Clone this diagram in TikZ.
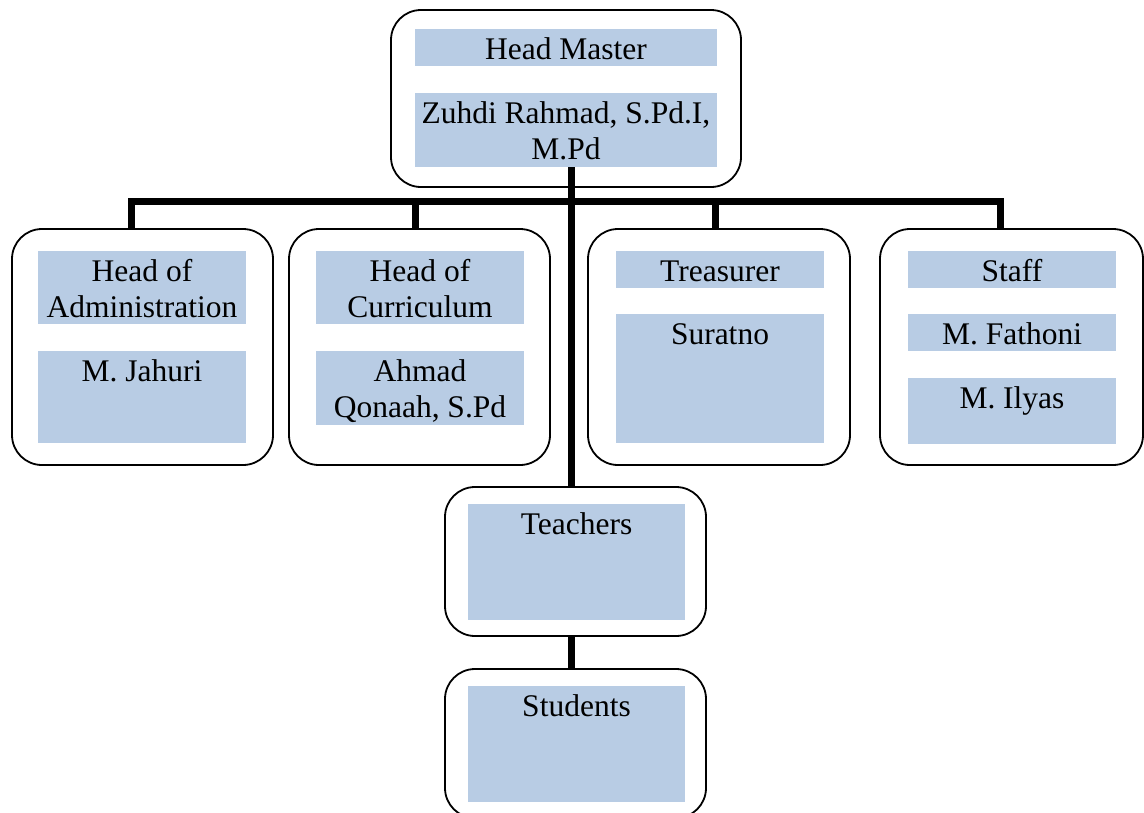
\documentclass[tikz,border=0pt]{standalone}
\usepackage{fontspec}
\setmainfont{Liberation Serif}
\usepackage{tikz}
\usepackage{xcolor}

\definecolor{cellblue}{RGB}{184,204,228}
% text of one blue cell, set from its top
\newcommand{\celltxt}[3]{\parbox[c][#2][t]{#1}{\centering\rule{0pt}{30pt}#3}}

\begin{document}
\begin{tikzpicture}[x=1pt, y=-1pt,
    unit/.style={draw, line width=1.8pt, rounded corners=30pt, fill=white, inner sep=0pt},
    cell/.style={fill=cellblue, inner sep=0pt, outer sep=0pt, font=\fontsize{31.5}{36}\selectfont},
    link/.style={line width=7pt}]
    \useasboundingbox (0,0) rectangle (1144,812);

    % boxes
    \node[unit, minimum width=350pt, minimum height=177pt] (hm) at (566,98.5) {};
    \node[unit, minimum width=261pt, minimum height=236pt] (admin) at (142.5,347) {};
    \node[unit, minimum width=261pt, minimum height=236pt] (curr) at (419.5,347) {};
    \node[unit, minimum width=262pt, minimum height=236pt] (treas) at (719,347) {};
    \node[unit, minimum width=263pt, minimum height=236pt] (staff) at (1011.5,347) {};
    \node[unit, minimum width=261pt, minimum height=149pt] (teach) at (575.5,561.5) {};
    \node[unit, minimum width=261pt, minimum height=149pt] (stud) at (575.5,743.5) {};

    % cells
    \node[cell] (hmtitle) at (566,47.5) {\celltxt{302pt}{37pt}{Head Master}};
    \node[cell] (hmname) at (566,130) {\celltxt{302pt}{74pt}{Zuhdi Rahmad, S.Pd.I,\\M.Pd}};
    \node[cell] (admtitle) at (142,287.5) {\celltxt{208pt}{73pt}{Head of\\Administration}};
    \node[cell] (admname) at (142,397) {\celltxt{208pt}{92pt}{M. Jahuri}};
    \node[cell] (curtitle) at (420,287.5) {\celltxt{208pt}{73pt}{Head of\\Curriculum}};
    \node[cell] (curname) at (420,388) {\celltxt{208pt}{74pt}{Ahmad\\Qonaah, S.Pd}};
    \node[cell] (trtitle) at (720,269.5) {\celltxt{208pt}{37pt}{Treasurer}};
    \node[cell] (trname) at (720,378.5) {\celltxt{208pt}{129pt}{Suratno}};
    \node[cell] (sttitle) at (1012,269.5) {\celltxt{208pt}{37pt}{Staff}};
    \node[cell] (stnameA) at (1012,332.5) {\celltxt{208pt}{37pt}{M. Fathoni}};
    \node[cell] (stnameB) at (1012,411) {\celltxt{208pt}{66pt}{M. Ilyas}};
    \node[cell] (teachcell) at (576.5,562) {\celltxt{217pt}{116pt}{Teachers}};
    \node[cell] (studcell) at (576.5,744) {\celltxt{217pt}{116pt}{Students}};

    % lines
    \coordinate (trunk) at (571,201);
    \coordinate (busL) at (131,201);
    \coordinate (busR) at (1000,201);
    \coordinate (dropC) at (415,201);
    \coordinate (dropT) at (715,201);
    \draw[link] (admin.north -| busL) |- (busR) -- (staff.north -| busR);
    \draw[link] (dropC) -- (curr.north -| dropC);
    \draw[link] (dropT) -- (treas.north -| dropT);
    \draw[link] (hmname.south -| trunk) -- (teach.north -| trunk);
    \draw[link] (teach.south -| trunk) -- (stud.north -| trunk);
\end{tikzpicture}
\end{document}
